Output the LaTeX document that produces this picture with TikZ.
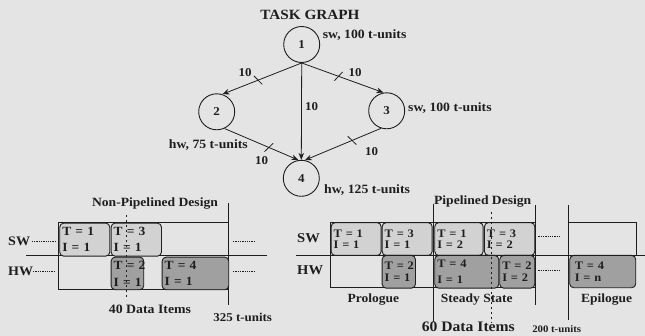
\documentclass[tikz,border=0pt]{standalone}
\usepackage{fontspec}
\setmainfont{Liberation Serif}[FakeStretch=1.08]
\usetikzlibrary{arrows.meta,calc}
\definecolor{paper}{RGB}{228,228,228}
\definecolor{ink}{RGB}{30,30,30}
\definecolor{swfill}{RGB}{210,210,210}
\definecolor{hwfill}{RGB}{160,160,160}
\tikzset{
  fs/.style={font=\fontsize{#1}{#1}\selectfont\bfseries},
  txt/.style={text=ink, inner sep=0pt},
  task/.style={circle, draw=ink, line width=0.9pt, minimum size=36pt, inner sep=0pt, text=ink, fs=12},
  edge/.style={draw=ink, line width=0.8pt, -{Stealth[length=7pt,width=5.5pt]}},
  tickmark/.style={draw=ink, line width=0.8pt},
  frame/.style={draw=ink, line width=0.9pt},
  dashv/.style={draw=ink, line width=0.8pt, dash pattern=on 2.5pt off 2.5pt},
  dots/.style={draw=ink, line width=0.7pt, dash pattern=on 1.3pt off 1pt},
  slot/.style={draw=ink, line width=0.9pt, rounded corners=4pt, anchor=north west,
    inner xsep=2.5pt, inner ysep=0pt, align=left, text=ink},
  swslot/.style={slot, fill=swfill},
  hwslot/.style={slot, fill=hwfill},
}
\begin{document}
\begin{tikzpicture}[x=1pt,y=-1pt]
\fill[paper] (0,0) rectangle (645,336);
\useasboundingbox (0,0) rectangle (645,336);

% ---------------- task graph ----------------
\node[txt, fs=14.1] (title) at (310,15) {TASK GRAPH};
\node[task] (n1) at (301.7,44.5) {1};
\node[task] (n2) at (216.7,111.8) {2};
\node[task] (n3) at (386.7,110.8) {3};
\node[task] (n4) at (301.3,178.3) {4};

\node[txt, fs=12.7, anchor=west] (l1) at (322.7,35) {sw, 100 t-units};
\node[txt, fs=12.7, anchor=west] (l3) at (408,108) {sw, 100 t-units};
\node[txt, fs=12.7, anchor=east] (l2) at (248,145) {hw, 75 t-units};
\node[txt, fs=12.7, anchor=west] (l4) at (324,190) {hw, 125 t-units};

\draw[edge] (n1.south) -- (n2.72);
\draw[edge] (n1.south) -- (n3.100);
\draw[edge] (n1.south) -- (n4.north);
\draw[edge] (n2.-65) -- (n4.99);
\draw[edge] (n3.-108) -- (n4.79);

\path (n1.south) -- (n2.72) coordinate[pos=0.55] (t12);
\path (n1.south) -- (n3.100) coordinate[pos=0.45] (t13);
\path (n2.-65) -- (n4.99) coordinate[pos=0.6] (t24);
\path (n3.-108) -- (n4.79) coordinate[pos=0.38] (t34);
\draw[tickmark] ($(t12)!6pt!-67:(n1.south)$) -- ($(t12)!6pt!113:(n1.south)$);
\draw[tickmark] ($(t13)!6pt!67:(n1.south)$) -- ($(t13)!6pt!-113:(n1.south)$);
\draw[tickmark] ($(t24)!6pt!67:(n2.-65)$) -- ($(t24)!6pt!-113:(n2.-65)$);
\draw[tickmark] ($(t34)!6pt!-67:(n3.-108)$) -- ($(t34)!6pt!113:(n3.-108)$);

\node[txt, fs=12] (w12) at (245,73) {10};
\node[txt, fs=12] (w13) at (355,72.7) {10};
\node[txt, fs=12] (w14) at (311.7,107) {10};
\node[txt, fs=12] (w24) at (261.7,160.7) {10};
\node[txt, fs=12] (w34) at (371.7,151.7) {10};

% ---------------- non-pipelined design ----------------
\node[txt, fs=12.6] (nptitle) at (155,203.3) {Non-Pipelined Design};
\draw[frame] (228.3,222.7) -- (58.3,222.7) -- (58.3,289.3) -- (228.3,289.3);
\draw[frame] (26,255.7) -- (266.7,255.7);
\draw[frame] (228.3,203) -- (228.3,305);

\node[swslot, font=\fontsize{12.5}{16}\selectfont\bfseries, minimum width=50pt, minimum height=33pt, text width=45pt] (a1) at (59.3,222.7) {T~=~1\\I~=~1};
\node[swslot, font=\fontsize{12.5}{16}\selectfont\bfseries, minimum width=50.3pt, minimum height=33pt, text width=45.3pt] (a3) at (110.7,222.7) {T~=~3\\I~=~1};
\node[hwslot, font=\fontsize{12.5}{17}\selectfont\bfseries, minimum width=32.6pt, minimum height=32.6pt, text width=27.6pt] (a2) at (110.7,256.7) {T~=~2\\I~=~1};
\node[hwslot, font=\fontsize{12.5}{16.5}\selectfont\bfseries, minimum width=66.6pt, minimum height=32.6pt, text width=61.6pt] (a4) at (161.7,256.7) {T~=~4\\I~=~1};

\draw[dashv] (126,215) -- (126,300);

\node[txt, fs=13, anchor=west] (npsw) at (8,241.7) {SW};
\node[txt, fs=13, anchor=west] (nphw) at (8,271.7) {HW};
\draw[dots] (31.7,241.7) -- (55,241.7);
\draw[dots] (33,271.7) -- (55,271.7);
\draw[dots] (233,241.7) -- (255,241.7);
\draw[dots] (233,271.7) -- (255,271.7);
\node[txt, fs=12.8] (np40) at (150,309) {40 Data Items};
\node[txt, fs=12] (np325) at (242.7,317.7) {325 t-units};

% ---------------- pipelined design ----------------
\node[txt, fs=12.6] (ptitle) at (482.7,201.7) {Pipelined Design};
\draw[frame] (535,222.2) -- (330.7,222.2) -- (330.7,287.7) -- (535,287.7);
\draw[frame] (568.3,222.2) -- (636,222.2) -- (636,255);
\draw[frame] (296,255) -- (645,255);
\draw[frame] (433.3,204) -- (433.3,321.7);
\draw[frame] (535,205) -- (535,305);
\draw[frame] (568.3,205) -- (568.3,320);

\node[swslot, font=\fontsize{11.5}{11.5}\selectfont\bfseries, minimum width=50pt, minimum height=32.8pt, text width=45pt] (p1) at (330.7,222.2) {T~=~1\\I~=~1};
\node[swslot, font=\fontsize{11.5}{11.5}\selectfont\bfseries, minimum width=50pt, minimum height=32.8pt, text width=45pt] (p3) at (381.7,222.2) {T~=~3\\I~=~1};
\node[swslot, font=\fontsize{11.5}{11.5}\selectfont\bfseries, minimum width=48.4pt, minimum height=32.8pt, text width=43.4pt] (p5) at (434.3,222.2) {T~=~1\\I~=~2};
\node[swslot, font=\fontsize{11.5}{11.5}\selectfont\bfseries, minimum width=50.3pt, minimum height=32.8pt, text width=45.3pt] (p7) at (484,222.2) {T~=~3\\I~=~2};
\node[hwslot, font=\fontsize{11.5}{12.5}\selectfont\bfseries, minimum width=33.3pt, minimum height=32.7pt, text width=28.3pt] (p2) at (381.7,255) {T~=~2\\I~=~1};
\node[hwslot, font=\fontsize{11.5}{16.5}\selectfont\bfseries, minimum width=64pt, minimum height=32.7pt, text width=59pt] (p4) at (434.3,255) {T~=~4\\I~=~1};
\node[hwslot, font=\fontsize{11.5}{12.5}\selectfont\bfseries, minimum width=35pt, minimum height=32.7pt, text width=30pt] (p6) at (499.3,255) {T~=~2\\I~=~2};
\node[hwslot, font=\fontsize{11.5}{12.5}\selectfont\bfseries, minimum width=65.7pt, minimum height=32.3pt, text width=56pt, inner xsep=5pt] (p8) at (569.3,255) {T~=~4\\I~=~n};

\draw[dashv] (491.7,211.7) -- (491.7,323.3);

\node[txt, fs=13.5, anchor=west] (psw) at (297,238.5) {SW};
\node[txt, fs=13.5, anchor=west] (phw) at (297,270.5) {HW};
\draw[dots] (538.3,236.7) -- (559.3,236.7);
\draw[dots] (538.3,270) -- (559.3,270);

\node[txt, fs=12.5] (prol) at (373.3,300) {Prologue};
\node[txt, fs=12.5] (stst) at (476.7,300) {Steady State};
\node[txt, fs=12.5] (epil) at (606.7,300) {Epilogue};
\node[txt, fs=14.5] (p60) at (468.3,326.7) {60 Data Items};
\node[txt, fs=10] (p200) at (556.7,329.3) {200 t-units};
\end{tikzpicture}
\end{document}
